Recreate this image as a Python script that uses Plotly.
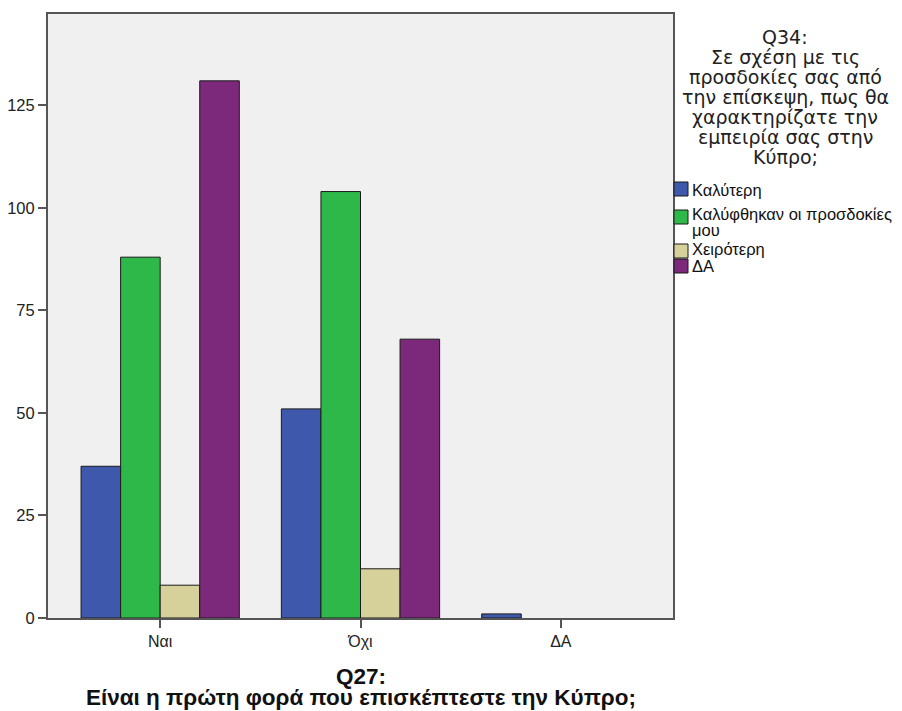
import plotly.graph_objects as go

categories = ["Ναι", "Όχι", "ΔΑ"]
series_names = ["Καλύτερη", "Καλύφθηκαν οι προσδοκίες<br>μου", "Χειρότερη", "ΔΑ"]
series_values = [
    [37, 51, 1],
    [88, 104, 0],
    [8, 12, 0],
    [131, 68, 0],
]
series_colors = ["#3E58AC", "#2FB84A", "#D6D09A", "#7C297C"]
y_ticks = [0, 25, 50, 75, 100, 125]

legend_title_lines = ["Q34:", "Σε σχέση με τις", "προσδοκίες σας από", "την επίσκεψη, πως θα",
                      "χαρακτηρίζατε την", "εμπειρία σας στην", "Κύπρο;"]
x_title_lines = ["Q27:", "Είναι η πρώτη φορά που επισκέπτεστε την Κύπρο;"]

# page body has an 8px margin, so the figure is drawn 8px in from the corner
OFF = 8
W, H = 902 - OFF, 711 - OFF
L, R, T, B = 40, 229, 6, 93
PW, PH = W - L - R, H - T - B


def px(x):
    """screen x (reference pixels) -> paper x"""
    return (x - OFF - L) / PW


def py(y):
    """screen y (reference pixels) -> paper y"""
    return (H - B - (y - OFF)) / PH


fig = go.Figure()
for name, vals, col in zip(series_names, series_values, series_colors):
    fig.add_trace(go.Bar(
        x=categories, y=vals, name=name, showlegend=False,
        marker=dict(color=col, line=dict(color="#1a1a1a",
                                         width=[0 if v == 0 else 1 for v in vals])),
    ))

annotations = []
shapes = []

# legend title (centered block)
for i, line in enumerate(legend_title_lines):
    annotations.append(dict(
        text=line, xref="paper", yref="paper", x=px(785), y=py(37 + 20 * i),
        xanchor="center", yanchor="middle", showarrow=False,
        font=dict(family="DejaVu Sans, Liberation Sans, sans-serif", size=19, color="#222"),
    ))

# legend items
square_tops = [182, 210, 244, 259]
text_centers = [190, 214, 249, 266]
for name, col, top, tc in zip(series_names, series_colors, square_tops, text_centers):
    shapes.append(dict(
        type="rect", xref="paper", yref="paper",
        x0=px(674), x1=px(688), y0=py(top), y1=py(top + 14),
        fillcolor=col, line=dict(color="#1a1a1a", width=1),
    ))
    for j, part in enumerate(name.split("<br>")):
        annotations.append(dict(
            text=part, xref="paper", yref="paper", x=px(690), y=py(tc + 16 * j),
            xanchor="left", yanchor="middle", align="left", showarrow=False,
            font=dict(family="Liberation Sans, Arial, sans-serif", size=16.5, color="#111"),
        ))

# x-axis title
for i, line in enumerate(x_title_lines):
    annotations.append(dict(
        text="<b>" + line + "</b>", xref="paper", yref="paper", x=0.5, y=py(676 + 21 * i),
        xanchor="center", yanchor="middle", showarrow=False,
        font=dict(family="Liberation Sans, Arial, sans-serif", size=22.5, color="#111"),
    ))

fig.update_layout(
    width=W, height=H,
    margin=dict(l=L, r=R, t=T, b=B, autoexpand=False),
    paper_bgcolor="white",
    plot_bgcolor="#F0F0F0",
    barmode="group",
    bargap=0.21,
    bargroupgap=0,
    showlegend=False,
    font=dict(family="Liberation Sans, Arial, sans-serif", color="#222", size=12),
    annotations=annotations,
    shapes=shapes,
    xaxis=dict(
        range=[-0.56, 2.56], automargin=False,
        showline=True, mirror=True, linecolor="#555", linewidth=2,
        ticks="outside", ticklen=8, tickcolor="#555", tickwidth=1.5,
        tickfont=dict(size=16, color="#222"),
        showgrid=False,
    ),
    yaxis=dict(
        range=[0, 147.3], automargin=False,
        tickvals=y_ticks,
        showline=True, mirror=True, linecolor="#555", linewidth=2,
        ticks="outside", ticklen=8, tickcolor="#555", tickwidth=1.5,
        tickfont=dict(size=16.5, color="#222"),
        showgrid=False, zeroline=False,
    ),
)

fig.write_html("out.html")
